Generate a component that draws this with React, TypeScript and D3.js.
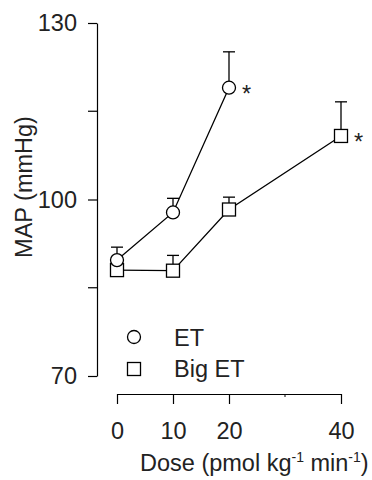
import { useEffect, useRef } from 'react';
import * as d3 from 'd3';

const doses = [0, 10, 20, 40];
const etDoses = [0, 10, 20];
const etMean = [89.7, 97.8, 119.0];
const etErr = [91.9, 100.2, 125.1];
const bigDoses = [0, 10, 20, 40];
const bigMean = [88.0, 87.9, 98.3, 110.8];
const bigErr = [90.0, 90.5, 100.4, 116.6];
const yTicks = [70, 100, 130];
const yMinor = [85, 115];

export default function App() {
    const svgRef = useRef<SVGSVGElement>(null);

    useEffect(() => {
        if (!svgRef.current) return;
        const svg = d3.select(svgRef.current);
        svg.selectAll('*').remove();

        const font = 'Liberation Sans, Arial, sans-serif';
        const fs = '23.5px';
        const ink = '#222';
        const x = d3.scaleLinear().domain([0, 40]).range([117, 341]);
        const y = d3.scaleLinear().domain([70, 130]).range([376, 23]);

        // Y axis
        const yAxis = svg.append('g').attr('transform', 'translate(97,0)');
        yAxis.call(d3.axisLeft(y).tickValues(yTicks).tickSize(9).tickPadding(11).tickSizeOuter(0));
        yAxis.selectAll('text').style('font-family', font).style('font-size', fs).style('fill', ink);
        yAxis.selectAll('.tick line, .domain').attr('stroke', '#000').attr('stroke-width', 1.2);
        yAxis.selectAll('.minor')
            .data(yMinor)
            .enter()
            .append('line')
            .attr('x1', -9)
            .attr('x2', 0)
            .attr('y1', d => y(d))
            .attr('y2', d => y(d))
            .attr('stroke', '#000')
            .attr('stroke-width', 1.2);

        // X axis
        const xAxis = svg.append('g').attr('transform', 'translate(0,394)');
        xAxis.call(d3.axisBottom(x).tickValues(doses).tickSize(10).tickPadding(18).tickSizeOuter(0));
        xAxis.selectAll('text').style('font-family', font).style('font-size', fs).style('fill', ink);
        xAxis.selectAll('.tick line, .domain').attr('stroke', '#000').attr('stroke-width', 1.2);
        xAxis.append('line')
            .attr('x1', x(30)).attr('x2', x(30))
            .attr('y1', 0).attr('y2', 3)
            .attr('stroke', '#000');

        // Axis labels
        svg.append('text')
            .attr('transform', `translate(32,187) rotate(-90)`)
            .attr('text-anchor', 'middle')
            .style('font-family', font).style('font-size', fs).style('fill', ink)
            .text('MAP (mmHg)');

        const xl = svg.append('text')
            .attr('x', 140).attr('y', 471)
            .style('font-family', font).style('font-size', fs).style('fill', ink);
        xl.append('tspan').text('Dose (pmol kg');
        xl.append('tspan').attr('dy', -9).style('font-size', '14px').text('-1');
        xl.append('tspan').attr('dy', 9).text(' min');
        xl.append('tspan').attr('dy', -9).style('font-size', '14px').text('-1');
        xl.append('tspan').attr('dy', 9).text(')');

        // Error bars
        const errBars = (xs: number[], means: number[], errs: number[]) => {
            xs.forEach((d, i) => {
                svg.append('line')
                    .attr('x1', x(d)).attr('x2', x(d))
                    .attr('y1', y(means[i])).attr('y2', y(errs[i]))
                    .attr('stroke', '#000').attr('stroke-width', 1.3);
                svg.append('line')
                    .attr('x1', x(d) - 6).attr('x2', x(d) + 6)
                    .attr('y1', y(errs[i])).attr('y2', y(errs[i]))
                    .attr('stroke', '#000').attr('stroke-width', 1.3);
            });
        };
        errBars(bigDoses, bigMean, bigErr);
        errBars(etDoses, etMean, etErr);

        // Lines
        svg.append('path')
            .attr('d', d3.line<number>().x((d, i) => x(bigDoses[i])).y(d => y(d))(bigMean))
            .attr('fill', 'none').attr('stroke', '#000').attr('stroke-width', 1.3);
        svg.append('path')
            .attr('d', d3.line<number>().x((d, i) => x(etDoses[i])).y(d => y(d))(etMean))
            .attr('fill', 'none').attr('stroke', '#000').attr('stroke-width', 1.3);

        // Markers
        svg.selectAll('.sq')
            .data(bigMean)
            .enter()
            .append('rect')
            .attr('x', (d, i) => x(bigDoses[i]) - 6.5)
            .attr('y', d => y(d) - 6.5)
            .attr('width', 13).attr('height', 13)
            .attr('fill', '#fff').attr('stroke', '#000').attr('stroke-width', 1.3);
        svg.selectAll('.ci')
            .data(etMean)
            .enter()
            .append('circle')
            .attr('cx', (d, i) => x(etDoses[i]))
            .attr('cy', d => y(d))
            .attr('r', 6.5)
            .attr('fill', '#fff').attr('stroke', '#000').attr('stroke-width', 1.3);

        // Significance asterisks
        const star = (xv: number, yv: number) => {
            svg.append('text')
                .attr('x', x(xv) + 13).attr('y', y(yv) + 14)
                .style('font-family', font).style('font-size', fs).style('fill', ink)
                .text('*');
        };
        star(20, etMean[2]);
        star(40, bigMean[3]);

        // Legend
        const lg = svg.append('g');
        lg.append('circle').attr('cx', 134).attr('cy', 337).attr('r', 6.5)
            .attr('fill', '#fff').attr('stroke', '#000').attr('stroke-width', 1.3);
        lg.append('text').attr('x', 174).attr('y', 346)
            .style('font-family', font).style('font-size', fs).style('fill', ink).text('ET');
        lg.append('rect').attr('x', 127.5).attr('y', 362.5).attr('width', 13).attr('height', 13)
            .attr('fill', '#fff').attr('stroke', '#000').attr('stroke-width', 1.3);
        lg.append('text').attr('x', 174).attr('y', 377)
            .style('font-family', font).style('font-size', fs).style('fill', ink).text('Big ET');
    }, []);

    return (
        <svg
            ref={svgRef}
            width={372}
            height={480}
            style={{ position: 'absolute', left: 0, top: 0, background: '#fff' }}
        />
    );
}
